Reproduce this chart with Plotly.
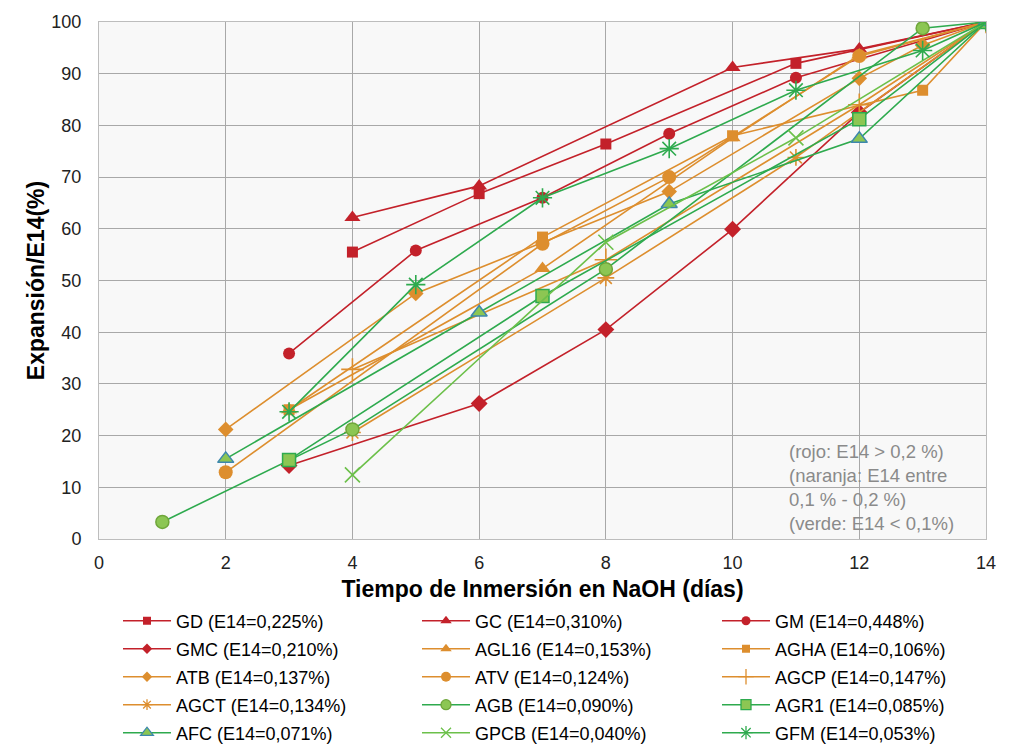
import plotly.graph_objects as go

# ---- data ----
names = ["GD (E14=0,225%)", "GC (E14=0,310%)", "GM (E14=0,448%)",
         "GMC (E14=0,210%)", "AGL16 (E14=0,153%)", "AGHA (E14=0,106%)",
         "ATB (E14=0,137%)", "ATV (E14=0,124%)", "AGCP (E14=0,147%)",
         "AGCT (E14=0,134%)", "AGB (E14=0,090%)", "AGR1 (E14=0,085%)",
         "AFC (E14=0,071%)", "GPCB (E14=0,040%)", "GFM (E14=0,053%)"]

GD_x = [4, 6, 8, 11, 14];            GD_y = [55.5, 66.8, 76.4, 92.0, 100]
GC_x = [4, 6, 10, 12, 14];           GC_y = [62.2, 68.3, 91.2, 94.8, 100]
GM_x = [3, 5, 7, 9, 11, 14];         GM_y = [35.9, 55.8, 66.0, 78.4, 89.2, 100]
GMC_x = [3, 6, 8, 10, 12, 14];       GMC_y = [14.2, 26.2, 40.5, 59.9, 82.5, 100]
AGL16_x = [3, 7, 10, 12, 14];        AGL16_y = [25.0, 52.3, 77.6, 93.6, 100]
AGHA_x = [3, 7, 10, 13, 14];         AGHA_y = [25.0, 58.4, 78.0, 86.8, 100]
ATB_x = [2, 5, 9, 12, 13, 14];       ATB_y = [21.2, 47.5, 67.2, 89.1, 95.5, 100]
ATV_x = [2, 7, 9, 12, 14];           ATV_y = [12.9, 57.1, 70.0, 93.4, 100]
AGCP_x = [4, 8, 12, 14];             AGCP_y = [32.8, 54.0, 84.0, 100]
AGCT_x = [4, 8, 11, 14];             AGCT_y = [20.6, 50.5, 73.8, 100]
AGB_x = [1, 4, 8, 13, 14];           AGB_y = [3.3, 21.2, 52.2, 98.8, 100]
AGR1_x = [3, 7, 12, 14];             AGR1_y = [15.3, 47.0, 81.2, 100]
AFC_x = [2, 6, 9, 12, 14];           AFC_y = [15.5, 43.8, 64.8, 77.4, 100]
GPCB_x = [4, 8, 11, 14];             GPCB_y = [12.4, 57.4, 77.6, 100]
GFM_x = [3, 5, 7, 9, 11, 13, 14];    GFM_y = [24.6, 49.2, 66.0, 75.5, 86.8, 94.5, 100]

xs = [GD_x, GC_x, GM_x, GMC_x, AGL16_x, AGHA_x, ATB_x, ATV_x, AGCP_x, AGCT_x,
      AGB_x, AGR1_x, AFC_x, GPCB_x, GFM_x]
ys = [GD_y, GC_y, GM_y, GMC_y, AGL16_y, AGHA_y, ATB_y, ATV_y, AGCP_y, AGCT_y,
      AGB_y, AGR1_y, AFC_y, GPCB_y, GFM_y]

x_ticks = [0, 2, 4, 6, 8, 10, 12, 14]
y_ticks = [0, 10, 20, 30, 40, 50, 60, 70, 80, 90, 100]

# ---- styles ----
RED = "#C3212A"
ORG = "#DD8E2E"
GRN = "#2EAA4E"
LGRN = "#6CC04A"
FILLG = "#8CC653"

styles = [
    dict(lc=RED, sym="square", size=11, ls=8, fc=RED, olc=RED, olw=0),
    dict(lc=RED, sym="triangle-up", size=14, ls=10, fc=RED, olc=RED, olw=0),
    dict(lc=RED, sym="circle", size=12, ls=9, fc=RED, olc=RED, olw=0),
    dict(lc=RED, sym="diamond", size=13, ls=8, fc=RED, olc=RED, olw=0),
    dict(lc=ORG, sym="triangle-up", size=14, ls=10, fc=ORG, olc=ORG, olw=0),
    dict(lc=ORG, sym="square", size=11, ls=8, fc=ORG, olc=ORG, olw=0),
    dict(lc=ORG, sym="diamond", size=12, ls=8, fc=ORG, olc=ORG, olw=0),
    dict(lc=ORG, sym="circle", size=14, ls=10, fc=ORG, olc=ORG, olw=0),
    dict(lc=ORG, sym="cross-thin", size=16, ls=11, fc=ORG, olc=ORG, olw=1.6),
    dict(lc=ORG, sym="asterisk", size=14, ls=9, fc=ORG, olc=ORG, olw=1.6),
    dict(lc=GRN, sym="circle", size=13, ls=10, fc=FILLG, olc="#6FA63A", olw=1.5),
    dict(lc=GRN, sym="square", size=13, ls=10, fc=FILLG, olc=GRN, olw=1.5),
    dict(lc=GRN, sym="triangle-up", size=14, ls=11, fc=FILLG, olc="#3C87AE", olw=1.5),
    dict(lc=LGRN, sym="x-thin", size=15, ls=10, fc=LGRN, olc=LGRN, olw=1.6),
    dict(lc=GRN, sym="asterisk", size=16, ls=11, fc=GRN, olc=GRN, olw=1.6),
]

W, H = 1008, 738   # page body adds an 8px offset

legend_ids = ["legend"] + ["legend%d" % k for k in range(2, 16)]
col_x = [110, 409, 709]                 # legend left edges (px)
row_c = [613, 641, 669, 697, 725]       # legend row centres (px)

fig = go.Figure()
for i, (nm, x, y, s) in enumerate(zip(names, xs, ys, styles)):
    fig.add_trace(go.Scatter(
        x=x, y=y, name=nm, mode="lines+markers", showlegend=False,
        legendgroup=nm,
        line=dict(color=s["lc"], width=1.6),
        marker=dict(symbol=s["sym"], size=s["size"], color=s["fc"],
                    line=dict(color=s["olc"], width=s["olw"])),
    ))
    # legend entry (smaller marker, as in the original legend)
    fig.add_trace(go.Scatter(
        x=[None], y=[None], name=nm, mode="lines+markers",
        legend=legend_ids[i], legendgroup=nm, showlegend=True,
        line=dict(color=s["lc"], width=1.6),
        marker=dict(symbol=s["sym"], size=s["ls"], color=s["fc"],
                    line=dict(color=s["olc"], width=min(s["olw"], 1.3))),
    ))

legends = {}
for i, lid in enumerate(legend_ids):
    legends[lid] = dict(
        orientation="h", xref="container", yref="container",
        x=col_x[i % 3] / W, y=1 - row_c[i // 3] / H,
        xanchor="left", yanchor="middle",
        itemwidth=48,
        font=dict(family="Liberation Sans, Arial", size=18, color="#000"),
        bgcolor="rgba(0,0,0,0)", borderwidth=0,
    )

fig.add_annotation(
    x=10.86, y=19.3, xref="x", yref="y", xanchor="left", yanchor="top",
    align="left", showarrow=False,
    text="(rojo: E14 > 0,2 %)<br>(naranja: E14 entre<br>0,1 % - 0,2 %)<br>(verde: E14 < 0,1%)",
    font=dict(family="Liberation Sans, Arial", size=18.5, color="#8A8A8A"),
)

fig.update_layout(
    width=W, height=H,
    margin=dict(l=91, r=30, t=14, b=207, autoexpand=False),
    paper_bgcolor="white",
    plot_bgcolor="#F8F8F8",
    font=dict(family="Liberation Sans, Arial", size=17, color="#000000"),
    showlegend=True,
    **legends,
    xaxis=dict(
        range=[0, 14], tickvals=x_ticks, ticktext=[str(v) for v in x_ticks],
        showgrid=True, gridcolor="#A8A8A8", gridwidth=1,
        showline=True, linecolor="#BDBDBD", mirror=True, zeroline=False,
        ticks="outside", ticklen=7, tickcolor="rgba(0,0,0,0)",
        tickfont=dict(size=18, color="#222"), automargin=False,
        title=dict(text="<b>Tiempo de Inmersión en NaOH (días)</b>",
                   font=dict(size=23, color="#000"), standoff=13),
    ),
    yaxis=dict(
        range=[0, 100], tickvals=y_ticks, ticktext=[str(v) for v in y_ticks],
        showgrid=True, gridcolor="#A8A8A8", gridwidth=1,
        showline=True, linecolor="#BDBDBD", mirror=True, zeroline=False,
        ticks="outside", ticklen=13, tickcolor="rgba(0,0,0,0)",
        tickfont=dict(size=18, color="#222"), automargin=False,
        title=dict(text="<b>Expansión/E14(%)</b>",
                   font=dict(size=23, color="#000"), standoff=0),
    ),
)

fig.write_html("out.html")
